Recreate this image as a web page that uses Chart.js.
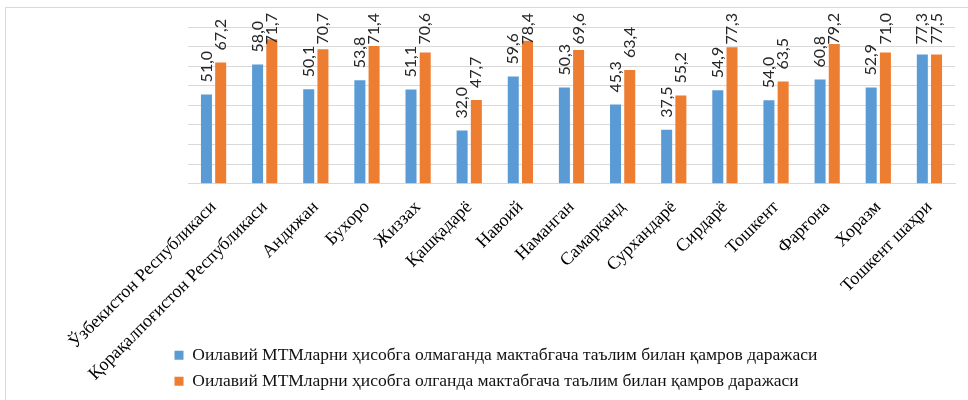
<!DOCTYPE html>
<html>
<head>
<meta charset="utf-8">
<script src="https://cdn.jsdelivr.net/npm/chart.js@4.4.1/dist/chart.umd.min.js"></script>
<style>
    html, body { margin: 0; padding: 0; background: #fff; }
    #wrap { position: relative; width: 968px; height: 400px; }
    #frame { position: absolute; left: 5px; top: 7px; right: -2px; bottom: -2px;
             border-left: 1px solid #d9d9d9; border-top: 1px solid #d9d9d9; pointer-events: none; }
</style>
</head>
<body>
<div id="wrap">
    <canvas id="chart" width="968" height="400"></canvas>
    <div id="frame"></div>
</div>
<script>
// категории (регионы)
const regions = [
    'Ўзбекистон Республикаси', 'Қорақалпоғистон Республикаси', 'Андижан', 'Бухоро',
    'Жиззах', 'Қашқадарё', 'Навоий', 'Наманган', 'Самарқанд', 'Сурхандарё',
    'Сирдарё', 'Тошкент', 'Фарғона', 'Хоразм', 'Тошкент шаҳри'
];

const seriesNames = [
    'Оилавий МТМларни ҳисобга олмаганда мактабгача таълим билан қамров даражаси',
    'Оилавий МТМларни ҳисобга олганда мактабгача таълим билан қамров даражаси'
];

// высота столбцов, как на картинке
const withoutFamily = [45.6, 60.9, 48.2, 52.8, 48.1, 27.2, 54.7, 49.1, 40.4, 27.5, 47.7, 42.6, 53.2, 49.1, 66.0];
const withFamily = [61.9, 73.8, 68.7, 70.3, 67.0, 42.7, 73.0, 68.2, 58.0, 45.0, 69.7, 52.2, 71.3, 67.0, 66.0];

// подписи над столбцами
const withoutFamilyLabels = ['51,0', '58,0', '50,1', '53,8', '51,1', '32,0', '59,6', '50,3', '45,3', '37,5', '54,9', '54,0', '60,8', '52,9', '77,3'];
const withFamilyLabels = ['67,2', '71,7', '70,7', '71,4', '70,6', '47,7', '78,4', '69,6', '63,4', '55,2', '77,3', '63,5', '79,2', '71,0', '77,5'];

const yMin = 0;
const yMax = 80;
const yStep = 10;

const serif = "'Liberation Serif', 'Times New Roman', serif";

const barLabels = {
    id: 'barLabels',
    afterLayout(chart) {
        // подписи оси X заходят в зону легенды, не обрезаем их
        chart.scales.x.bottom = chart.height;
    },
    afterDatasetsDraw(chart) {
        const ctx = chart.ctx;
        const texts = [withoutFamilyLabels, withFamilyLabels];
        const topLimit = 13;
        ctx.save();
        ctx.font = "16px 'Lato', sans-serif";
        ctx.fillStyle = '#262626';
        ctx.textAlign = 'left';
        ctx.textBaseline = 'middle';
        chart.data.datasets.forEach((ds, i) => {
            chart.getDatasetMeta(i).data.forEach((bar, j) => {
                const text = texts[i][j];
                const len = ctx.measureText(text).width;
                let start = bar.y - 12;
                if (start - len < topLimit) start = topLimit + len;
                ctx.save();
                ctx.translate(bar.x, start);
                ctx.rotate(-Math.PI / 2);
                ctx.fillText(text, 0, 0);
                ctx.restore();
            });
        });
        ctx.restore();
    }
};

const makeDataset = (label, data, color) => ({
    label,
    data,
    backgroundColor: color,
    borderColor: color,
    borderWidth: 0,
    categoryPercentage: 0.556,
    barPercentage: 0.775,
});

const drawChart = () => {
    new Chart(document.getElementById('chart'), {
        type: 'bar',
        data: {
            labels: regions,
            datasets: [
                makeDataset(seriesNames[0], withoutFamily, '#5b9bd5'),
                makeDataset(seriesNames[1], withFamily, '#ed7d31'),
            ],
        },
        options: {
            responsive: false,
            animation: false,
            layout: { padding: { left: 166, right: 13, top: 27, bottom: 0 } },
            scales: {
                x: {
                    grid: { display: false },
                    border: { display: true, color: '#d9d9d9', width: 1 },
                    ticks: {
                        autoSkip: false,
                        minRotation: 45,
                        maxRotation: 45,
                        color: '#000',
                        font: { family: serif, size: 18 },
                        padding: 5,
                    },
                    afterFit: (scale) => { scale.height = 154.25; },
                },
                y: {
                    min: yMin,
                    max: yMax,
                    ticks: { display: false, stepSize: yStep },
                    grid: { color: '#d9d9d9', drawTicks: false },
                    border: { display: false },
                    afterFit: (scale) => { scale.width = 22; },
                },
            },
            plugins: {
                legend: {
                    position: 'bottom',
                    align: 'start',
                    labels: {
                        boxWidth: 9,
                        boxHeight: 9,
                        padding: 8.5,
                        color: '#111',
                        font: { family: serif, size: 17.5 },
                    },
                },
                tooltip: { enabled: false },
            },
        },
        plugins: [barLabels],
    });
};

Promise.all([
    document.fonts.load("18px 'Liberation Serif'", 'Андижан'),
    document.fonts.load("16px 'Lato'", '51,0'),
]).catch(() => null).then(drawChart);
</script>
</body>
</html>
